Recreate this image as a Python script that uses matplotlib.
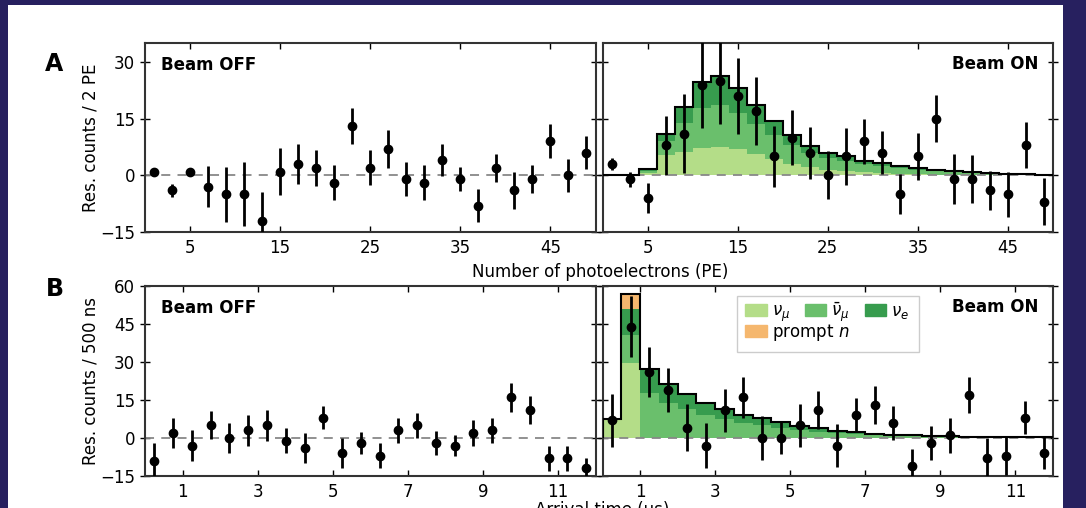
import matplotlib.pyplot as plt
import numpy as np
from matplotlib.patches import Rectangle, Patch

# A: residual counts per 2 PE bin
pe_edges = [0, 2, 4, 6, 8, 10, 12, 14, 16, 18, 20, 22, 24, 26, 28, 30, 32, 34, 36, 38, 40, 42, 44, 46, 48, 50]
pe_x = [1, 3, 5, 7, 9, 11, 13, 15, 17, 19, 21, 23, 25, 27, 29, 31, 33, 35, 37, 39, 41, 43, 45, 47, 49]
pe_off = [1, -4, 1, -3, -5, -5, -12, 1, 3, 2, -2, 13, 2, 7, -1, -2, 4, -1, -8, 2, -4, -1, 9, 0, 6]
pe_off_err = [0.8, 1.8, 0.8, 5.4, 7.3, 8.5, 7.5, 6.3, 5.2, 4.8, 4.6, 4.8, 4.6, 5, 4.4, 4.6, 4.2, 3.2, 4.3, 3.7, 4.8, 3.6, 4.5, 4.3, 4.3]
pe_on = [3, -1, -6, 8, 11, 24, 25, 21, 17, 5, 10, 6, 0, 5, 9, 6, -5, 5, 15, -1, -1, -4, -5, 8, -7]
pe_on_err = [1.5, 2, 4, 7.8, 10.5, 11.5, 11.5, 10, 9, 8, 7.4, 6.9, 6.4, 7.5, 6, 5.7, 5.3, 6.3, 6.2, 6.7, 6.3, 5.2, 6, 6, 6.2]
pe_numu = [0, 0, 0.5, 5.4, 6.2, 7.3, 7.6, 6.9, 5.6, 4.2, 3.0, 2.1, 1.5, 1.1, 0.8, 0.6, 0.4, 0.3, 0.2, 0.15, 0.1, 0.08, 0.05, 0.03, 0.02]
pe_numubar = [0, 0, 0.7, 3.8, 7.7, 10.6, 11.0, 9.7, 7.9, 6.4, 5.0, 3.8, 3.0, 2.7, 2.1, 1.8, 1.5, 1.1, 0.9, 0.65, 0.55, 0.37, 0.25, 0.19, 0.13]
pe_nue = [0, 0, 0.4, 1.6, 4.3, 6.7, 7.8, 6.6, 5.1, 3.7, 2.6, 1.9, 1.5, 1.2, 1.0, 0.8, 0.6, 0.5, 0.4, 0.3, 0.25, 0.15, 0.1, 0.08, 0.05]

# B: residual counts per 500 ns bin
t_edges = [0, 0.5, 1, 1.5, 2, 2.5, 3, 3.5, 4, 4.5, 5, 5.5, 6, 6.5, 7, 7.5, 8, 8.5, 9, 9.5, 10, 10.5, 11, 11.5, 12]
t_x = [0.25, 0.75, 1.25, 1.75, 2.25, 2.75, 3.25, 3.75, 4.25, 4.75, 5.25, 5.75, 6.25, 6.75, 7.25, 7.75, 8.25, 8.75, 9.25, 9.75, 10.25, 10.75, 11.25, 11.75]
t_off = [-9, 2, -3, 5, 0, 3, 5, -1, -4, 8, -6, -2, -7, 3, 5, -2, -3, 2, 3, 16, 11, -8, -8, -12]
t_off_err = [7, 6, 6, 5.5, 6, 6, 6, 5, 6, 4.6, 6, 4.4, 5, 4.8, 5, 4.8, 4, 5, 4.8, 5.6, 5.4, 5, 5, 4]
t_on = [7, 44, 26, 19, 4, -3, 11, 16, 0, 0, 5, 11, -3, 9, 13, 6, -11, -2, 1, 17, -8, -7, 8, -6]
t_on_err = [10.4, 12, 10, 8.6, 9.3, 9, 8.5, 8, 8.6, 6.5, 8.6, 7.5, 8.6, 6.6, 7.6, 6.8, 6.6, 6.6, 7, 7, 8, 7.6, 6.6, 6.3]
t_numu = [7.4, 29.5, 0, 0, 0, 0, 0, 0, 0, 0, 0, 0, 0, 0, 0, 0, 0, 0, 0, 0, 0, 0, 0, 0]
t_numubar = [0.1, 11, 17.8, 14.0, 11.4, 9.1, 7.4, 5.8, 5.1, 4.0, 3.2, 2.5, 1.9, 1.5, 1.1, 0.85, 0.65, 0.52, 0.42, 0.32, 0.26, 0.2, 0.16, 0.13]
t_nue = [0.1, 10.5, 9.5, 7.5, 6.1, 4.9, 3.9, 3.1, 2.7, 2.2, 1.7, 1.4, 1.0, 0.8, 0.6, 0.45, 0.35, 0.28, 0.23, 0.18, 0.14, 0.1, 0.09, 0.07]
t_prompt = [0, 6.0, 0, 0, 0, 0, 0, 0, 0, 0, 0, 0, 0, 0, 0, 0, 0, 0, 0, 0, 0, 0, 0, 0]

c_numu = '#b4dd88'
c_numubar = '#6abf6c'
c_nue = '#379c4e'
c_prompt = '#f5b76e'

plt.rcParams['font.family'] = 'DejaVu Sans'
plt.rcParams['font.size'] = 12

W, H = 1086, 508
fig = plt.figure(figsize=(W / 100, H / 100), dpi=100)
fig.patch.set_facecolor('#27205f')
fig.add_artist(Rectangle((8 / W, 0), 1055 / W, 503 / H, transform=fig.transFigure,
                         facecolor='white', edgecolor='none', zorder=-5))


def axes_at(x0, y0, x1, y1):
    return fig.add_axes([x0 / W, 1 - y1 / H, (x1 - x0) / W, (y1 - y0) / H])


axA1 = axes_at(145, 43, 595.5, 232)
axA2 = axes_at(602.5, 43, 1053, 232)
axB1 = axes_at(145, 286, 595.5, 476)
axB2 = axes_at(602.5, 286, 1053, 476)


def stack(ax, edges, parts, colors):
    base = np.zeros(len(parts[0]))
    for vals, c in zip(parts, colors):
        top = base + np.array(vals)
        ax.stairs(top, edges, baseline=base, fill=True, color=c, lw=0, zorder=1)
        base = top
    ax.stairs(base, edges, color='k', lw=1.5, zorder=3)


def style(ax, x, y, err, xlim, xticks, ylim, yticks, tag, left):
    ax.axhline(0, color='#888888', ls='--', lw=1.3, dashes=(5, 4), zorder=2)
    ax.errorbar(x, y, yerr=err, fmt='o', color='k', ms=6, elinewidth=2, capsize=0, zorder=4)
    ax.set_xlim(*xlim)
    ax.set_ylim(*ylim)
    ax.set_xticks(xticks)
    ax.set_yticks(yticks)
    ax.tick_params(axis='x', direction='in', top=True, length=4, width=1, pad=5)
    ax.tick_params(axis='y', direction='inout', right=True, length=7, width=1)
    if not left:
        ax.set_yticklabels([])
    for s in ax.spines.values():
        s.set_linewidth(1.5)
        s.set_color('#333333')
    if left:
        ax.text(0.036, 0.885, tag, transform=ax.transAxes, fontweight='bold', va='center', ha='left')
    else:
        ax.text(0.967, 0.89, tag, transform=ax.transAxes, fontweight='bold', va='center', ha='right')


stack(axA2, pe_edges, [pe_numu, pe_numubar, pe_nue], [c_numu, c_numubar, c_nue])
stack(axB2, t_edges, [t_numu, t_numubar, t_nue, t_prompt], [c_numu, c_numubar, c_nue, c_prompt])

style(axA1, pe_x, pe_off, pe_off_err, (0, 50), [5, 15, 25, 35, 45], (-15, 35), [-15, 0, 15, 30], 'Beam OFF', True)
style(axA2, pe_x, pe_on, pe_on_err, (0, 50), [5, 15, 25, 35, 45], (-15, 35), [-15, 0, 15, 30], 'Beam ON', False)
style(axB1, t_x, t_off, t_off_err, (0, 12), [1, 3, 5, 7, 9, 11], (-15, 60), [-15, 0, 15, 30, 45, 60], 'Beam OFF', True)
style(axB2, t_x, t_on, t_on_err, (0, 12), [1, 3, 5, 7, 9, 11], (-15, 60), [-15, 0, 15, 30, 45, 60], 'Beam ON', False)

axA1.set_ylabel('Res. counts / 2 PE')
axB1.set_ylabel('Res. counts / 500 ns')
axA1.yaxis.set_label_coords(-0.102, 0.5)
axB1.yaxis.set_label_coords(-0.102, 0.5)

# legend: frame drawn by hand, two frameless rows inside it
axB2.add_patch(Rectangle((0.2986, 0.653), 0.4039, 0.294, transform=axB2.transAxes,
                         facecolor='white', edgecolor='#cccccc', lw=1, zorder=5))
row1 = [Patch(color=c_numu, label=r'$\nu_\mu$'), Patch(color=c_numubar, label=r'$\bar{\nu}_\mu$'),
        Patch(color=c_nue, label=r'$\nu_e$')]
row2 = [Patch(color=c_prompt, label=r'prompt $n$')]
leg_kw = dict(loc='upper left', borderaxespad=0, borderpad=0, frameon=False, fontsize=12,
              handlelength=1.3, handletextpad=0.3, columnspacing=0.9)
leg1 = axB2.legend(handles=row1, ncol=3, bbox_to_anchor=(0.316, 0.925), **leg_kw)
leg1.set_zorder(6)
axB2.add_artist(leg1)
leg2 = axB2.legend(handles=row2, bbox_to_anchor=(0.316, 0.81), **leg_kw)
leg2.set_zorder(6)

fig.text(54 / W, 1 - 64 / H, 'A', fontsize=17, fontweight='bold', ha='center', va='center')
fig.text(55 / W, 1 - 289 / H, 'B', fontsize=17, fontweight='bold', ha='center', va='center')
fig.text(600 / W, 1 - 272 / H, 'Number of photoelectrons (PE)', ha='center', va='center')
fig.text(602 / W, 1 - 501 / H, 'Arrival time (\u03bcs)', ha='center', va='top')

fig.savefig('out.png', dpi=100, facecolor=fig.get_facecolor())
